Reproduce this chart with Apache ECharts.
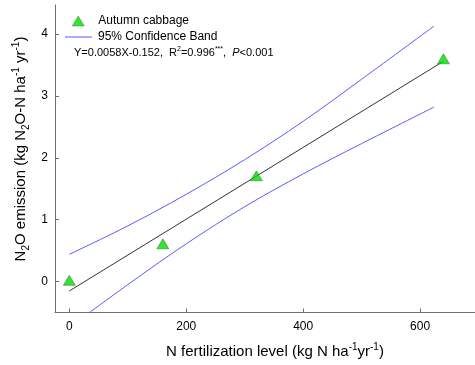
<!DOCTYPE html>
<html>
<head>
<meta charset="utf-8">
<script src="https://cdn.jsdelivr.net/npm/echarts@6/dist/echarts.min.js"></script>
<style>html,body{margin:0;padding:0;background:#fff;}#c{width:475px;height:365px;}</style>
</head>
<body>
<div id="c"></div>
<script>
// Observed data
var nRates = [0, 160, 320, 640];
var n2oEmission = [0.02, 0.61, 1.71, 3.60];
// Regression line (Y=0.0058X-0.152) end points as drawn
var fitX = [0, 640];
var fitY = [-0.152, 3.56];
// 95% confidence band
var bandX = [0, 100, 200, 300, 400, 500, 624];
var bandUpper = [0.44, 0.90, 1.41, 1.97, 2.59, 3.27, 4.13];
var bandLower = [-0.74, -0.05, 0.61, 1.21, 1.74, 2.23, 2.82];
// Tick labels
var xTicks = [0, 200, 400, 600];
var yTicks = [0, 1, 2, 3, 4];

function zip(a, b) { return a.map(function (v, i) { return [v, b[i]]; }); }

var FONT = 'Liberation Sans, Arial, sans-serif';
var BLUE = '#5b5bff';
var GREEN = '#00dd00';
var chart = echarts.init(document.getElementById('c'), null, { renderer: 'canvas' });
var axisCommon = {
  axisLine: { show: true, onZero: false, lineStyle: { color: '#6e6e6e', width: 1 } },
  axisTick: { show: true, inside: true, length: 4, lineStyle: { color: '#6e6e6e' } },
  splitLine: { show: false },
  axisLabel: { color: '#000', fontSize: 12, fontFamily: FONT }
};
chart.setOption({
  animation: false,
  backgroundColor: '#fff',
  grid: { left: 55, right: 0, top: 5, height: 307.5, containLabel: false },
  xAxis: Object.assign({}, axisCommon, {
    type: 'value', min: -24.5, max: 694,
    axisTick: Object.assign({}, axisCommon.axisTick, { customValues: xTicks }),
    axisLabel: Object.assign({}, axisCommon.axisLabel, { customValues: xTicks, margin: 8 })
  }),
  yAxis: Object.assign({}, axisCommon, {
    type: 'value', min: -0.5, max: 4.47,
    axisTick: Object.assign({}, axisCommon.axisTick, { customValues: yTicks }),
    axisLabel: Object.assign({}, axisCommon.axisLabel, { customValues: yTicks, margin: 7 })
  }),
  legend: [
    {
      orient: 'vertical', left: 72, top: 15, padding: 0, itemWidth: 12, itemHeight: 10,
      textStyle: { color: '#000', fontSize: 12, fontFamily: FONT, padding: [0, 0, 0, 9] },
      data: [{ name: 'Autumn cabbage', icon: 'triangle',
               itemStyle: { color: GREEN, borderColor: '#2a6a2a', borderWidth: 0.5 } }]
    },
    {
      orient: 'vertical', left: 65, top: 31, padding: 0, itemWidth: 27, itemHeight: 1,
      textStyle: { color: '#000', fontSize: 12, fontFamily: FONT, padding: [0, 0, 0, 1] },
      data: [{ name: '95% Confidence Band', icon: 'rect', itemStyle: { color: BLUE, borderWidth: 0 } }]
    }
  ],
  graphic: [
    {
      type: 'text', left: 74, top: 46,
      style: {
        text: '{n|Y=0.0058X-0.152,  R}{s|2}{n|=0.996}{s|***}{n|,  }{i|P}{n|<0.001}',
        fill: '#000',
        rich: {
          n: { fontSize: 11, fontFamily: FONT, lineHeight: 14, fill: '#000' },
          s: { fontSize: 7, fontFamily: FONT, lineHeight: 14, verticalAlign: 'top', fill: '#000' },
          i: { fontSize: 11, fontFamily: FONT, fontStyle: 'italic', lineHeight: 14, fill: '#000' }
        }
      }
    },
    {
      type: 'text', x: 21, y: 149, rotation: Math.PI / 2,
      style: {
        text: '{n|N}{b|2}{n|O emission (kg N}{b|2}{n|O-N ha}{t|-1}{n| yr}{t|-1}{n|)}',
        align: 'center', verticalAlign: 'middle',
        rich: {
          n: { fontSize: 15, fontFamily: FONT, lineHeight: 20, fill: '#000' },
          b: { fontSize: 10, fontFamily: FONT, lineHeight: 20, verticalAlign: 'bottom', fill: '#000' },
          t: { fontSize: 10, fontFamily: FONT, lineHeight: 20, verticalAlign: 'top', fill: '#000' }
        }
      }
    },
    {
      type: 'text', x: 275, y: 352,
      style: {
        text: '{n|N fertilization level (kg N ha}{t|-1}{n|yr}{t|-1}{n|)}',
        align: 'center', verticalAlign: 'middle',
        rich: {
          n: { fontSize: 15, fontFamily: FONT, lineHeight: 20, fill: '#000' },
          t: { fontSize: 10, fontFamily: FONT, lineHeight: 20, verticalAlign: 'top', fill: '#000' }
        }
      }
    }
  ],
  series: [
    {
      name: '95% Confidence Band', type: 'line', data: zip(bandX, bandUpper),
      smooth: 0.35, symbol: 'none', lineStyle: { color: BLUE, width: 1 }, itemStyle: { color: BLUE }, z: 2
    },
    {
      name: '95% Confidence Band', type: 'line', data: zip(bandX, bandLower),
      smooth: 0.35, symbol: 'none', lineStyle: { color: BLUE, width: 1 }, itemStyle: { color: BLUE }, z: 2
    },
    {
      name: 'fit', type: 'line', data: zip(fitX, fitY), symbol: 'none',
      lineStyle: { color: '#333', width: 1 }, z: 3
    },
    {
      name: 'Autumn cabbage', type: 'scatter', data: zip(nRates, n2oEmission),
      symbol: 'triangle', symbolSize: [12, 10],
      itemStyle: { color: GREEN, borderColor: '#2a6a2a', borderWidth: 0.6 }, z: 5
    }
  ]
});
</script>
</body>
</html>
